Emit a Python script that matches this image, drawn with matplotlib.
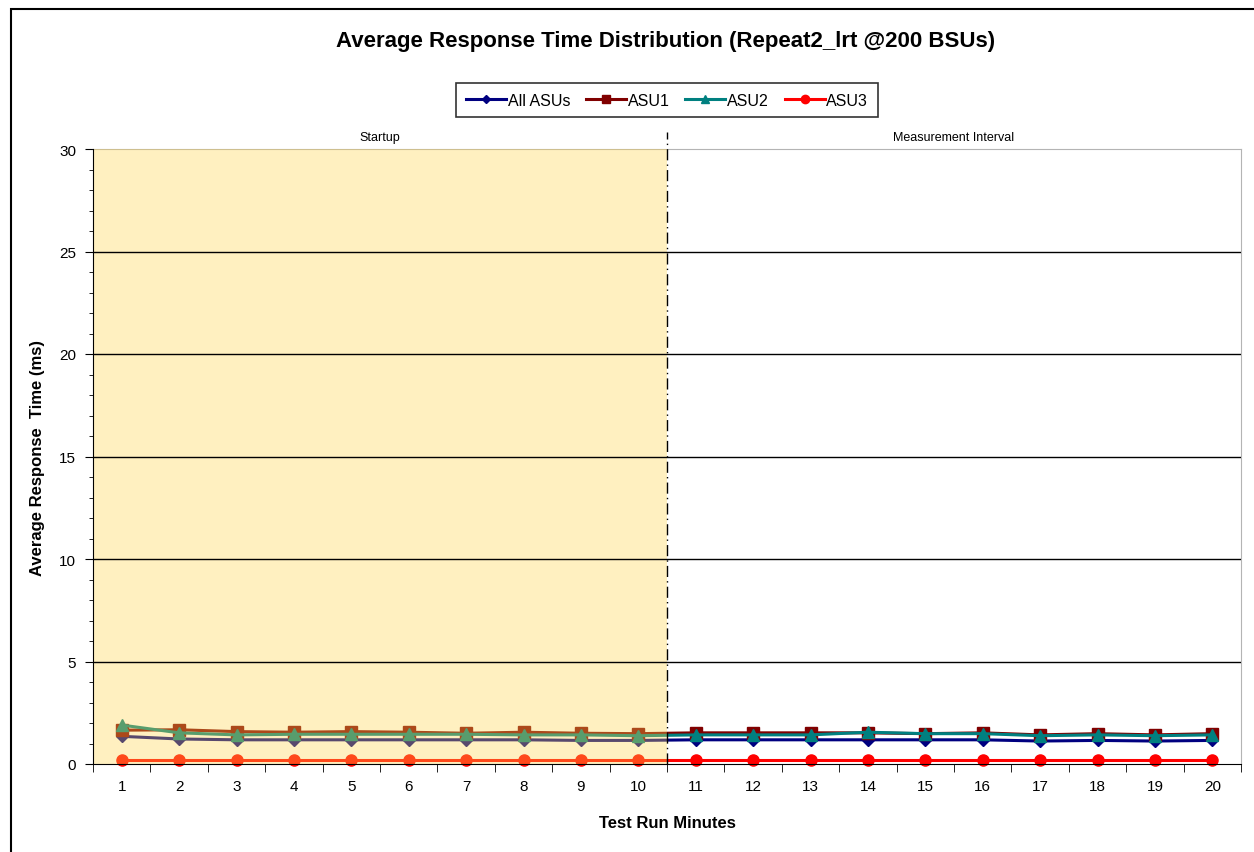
import numpy as np
import matplotlib.pyplot as plt
from matplotlib.patches import Rectangle

plt.rcParams['font.family'] = ['Liberation Sans', 'DejaVu Sans']

minutes = list(range(1, 21))
all_asus = [1.35, 1.22, 1.18, 1.18, 1.18, 1.18, 1.18, 1.18, 1.15, 1.15,
            1.18, 1.18, 1.18, 1.18, 1.18, 1.18, 1.12, 1.15, 1.12, 1.15]
asu1 = [1.65, 1.67, 1.58, 1.55, 1.58, 1.55, 1.50, 1.55, 1.50, 1.48,
        1.52, 1.52, 1.52, 1.52, 1.48, 1.52, 1.42, 1.48, 1.42, 1.48]
asu2 = [1.90, 1.52, 1.42, 1.45, 1.45, 1.45, 1.45, 1.42, 1.42, 1.38,
        1.42, 1.42, 1.42, 1.55, 1.48, 1.48, 1.38, 1.42, 1.38, 1.42]
asu3 = [0.21, 0.21, 0.21, 0.21, 0.21, 0.21, 0.21, 0.21, 0.21, 0.21,
        0.21, 0.21, 0.21, 0.21, 0.21, 0.21, 0.21, 0.21, 0.21, 0.21]

startup_end = 10.5

fig = plt.figure(figsize=(12.54, 8.53), dpi=100)
ax = fig.add_axes([93 / 1254, 1 - 765 / 853, 1148 / 1254, 615 / 853])

# outer chart border (only left and top fall inside the image)
fig.patches.append(Rectangle((11 / 1254, -0.05), 1.1, 1.05 - 10 / 853,
                             transform=fig.transFigure, fill=False,
                             edgecolor='black', lw=1.5))

series = [
    ('All ASUs', all_asus, '#000080', 'D', 6),
    ('ASU1', asu1, '#800000', 's', 8),
    ('ASU2', asu2, '#008080', '^', 8),
    ('ASU3', asu3, '#FF0000', 'o', 8),
]
for name, vals, col, mk, ms in series:
    ax.plot(minutes, vals, color=col, marker=mk, markersize=ms, lw=2.2,
            label=name, zorder=4, clip_on=False)

# startup shading sits over the lines, tinting them
ax.axvspan(0.5, startup_end, color='#FFD44B', alpha=0.35, lw=0, zorder=5)

ax.set_xlim(0.5, 20.5)
ax.set_ylim(0, 30)
ax.set_yticks(range(0, 31, 5))
ax.set_yticks(range(0, 31, 1), minor=True)
ax.set_xticks(minutes)
ax.set_xticks(np.arange(0.5, 20.6, 1), minor=True)
ax.tick_params(axis='x', which='major', length=0, pad=11, labelsize=11)
ax.tick_params(axis='x', which='minor', length=6, direction='out')
ax.tick_params(axis='y', which='major', length=6, labelsize=11, pad=6)
ax.tick_params(axis='y', which='minor', length=3)
for yv in range(5, 30, 5):
    ax.axhline(yv, color='black', lw=1, zorder=6)
for s in ['top', 'right']:
    ax.spines[s].set_color('#b4b4b4')
ax.spines['left'].set_zorder(7)
ax.spines['bottom'].set_zorder(7)

ax.axvline(startup_end, ymin=0, ymax=1.028, color='black', lw=1,
           linestyle=(0, (8, 3, 1, 3)), clip_on=False, zorder=8)

ax.text(5.5, 30.6, 'Startup', ha='center', va='center', fontsize=9)
ax.text(15.5, 30.6, 'Measurement Interval', ha='center', va='center', fontsize=9)

ax.set_xlabel('Test Run Minutes', fontsize=12, fontweight='bold', labelpad=16)
ax.set_ylabel('Average Response  Time (ms)', fontsize=12, fontweight='bold', labelpad=10)
fig.text(666 / 1254, 1 - 42 / 853, 'Average Response Time Distribution (Repeat2_lrt @200 BSUs)',
         ha='center', va='center', fontsize=16, fontweight='bold')

leg = fig.legend(loc='center', bbox_to_anchor=(667 / 1254, 1 - 101 / 853), ncol=4,
                 frameon=True, fancybox=False, edgecolor='black', fontsize=11.5,
                 handlelength=2.5, handletextpad=0.1, columnspacing=1.0,
                 borderpad=0.6, markerscale=0.75)
leg.get_frame().set_linewidth(1.2)

fig.savefig('out.png', dpi=100)
